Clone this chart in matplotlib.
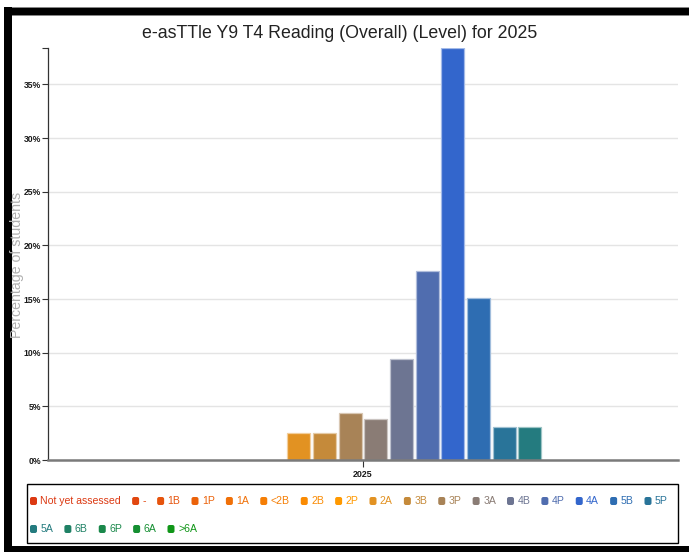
import matplotlib
matplotlib.use("Agg")
import matplotlib.pyplot as plt
import numpy as np
from matplotlib.patches import FancyBboxPatch, Rectangle
from matplotlib.transforms import IdentityTransform
from matplotlib.colors import to_rgb

W, H = 689, 552
plt.rcParams["font.family"] = ["Liberation Sans", "DejaVu Sans"]

TITLE = "e-asTTle Y9 T4 Reading (Overall) (Level) for 2025"
years = ["2025"]
levels = ["Not yet assessed", "-", "1B", "1P", "1A", "<2B", "2B", "2P", "2A",
          "3B", "3P", "3A", "4B", "4P", "4A", "5B", "5P", "5A", "6B", "6P", "6A", ">6A"]
percent = [0, 0, 0, 0, 0, 0, 0, 0, 2.5, 2.5, 4.4, 3.8, 9.4, 17.6, 38.4, 15.1,
           3.1, 3.1, 0, 0, 0, 0]
colors = ["#DC3912", "#E1470F", "#E6540D", "#EB620A", "#F07008", "#F57E05",
          "#FA8B03", "#FF9900", "#E29222", "#C58A3A", "#A88357", "#8A7C75",
          "#6D7592", "#506DAF", "#3366CC", "#2E6DB2", "#297499", "#247B7F",
          "#1F8165", "#1A884B", "#158F32", "#109618"]
yticks = [0, 5, 10, 15, 20, 25, 30, 35]


def px(x, y):
    """pixel (from top-left) -> figure fraction"""
    return x / W, 1 - y / H


def lighter(c, k=0.5):
    r, g, b = to_rgb(c)
    return (r + (1 - r) * k, g + (1 - g) * k, b + (1 - b) * k)


fig = plt.figure(figsize=(W / 100, H / 100), dpi=100)
ax = fig.add_axes([48 / W, 1 - 460 / H, (678 - 48) / W, (460 - 48) / H])

# grouped bars, one group per year
n = len(levels)
slot = 25.67 / 630
bw = 23 / 630
offsets = (np.arange(n) - (n - 1) / 2) * slot
x = np.arange(len(years))
for i, (lvl, val, c) in enumerate(zip(levels, percent, colors)):
    ax.bar(x + offsets[i], [val], width=bw, color=c, edgecolor=lighter(c, 0.55),
           linewidth=0.9 if val else 0, zorder=3)

ax.set_xlim(-0.5, 0.5)
ax.set_ylim(0, max(percent))
ax.set_yticks(yticks)
ax.set_yticklabels([f"{v}%" for v in yticks], fontsize=6.2, color="#1a1a1a",
                   fontweight="bold")
ax.set_yticks([max(percent)], minor=True)
ax.set_xticks(x)
ax.set_xticklabels(years, fontsize=6.4, color="#1a1a1a", fontweight="bold")
ax.tick_params(axis="y", which="both", length=4, width=0.8, color="#333333", pad=1)
ax.tick_params(axis="x", length=5, width=0.8, color="#333333", pad=2)
ax.grid(axis="y", color="#e4e4e4", linewidth=1, zorder=0)
ax.set_axisbelow(True)
for s in ("top", "right"):
    ax.spines[s].set_visible(False)
ax.spines["left"].set_color("#333333")
ax.spines["left"].set_linewidth(0.9)
ax.spines["bottom"].set_color("#7a7a7a")
ax.spines["bottom"].set_linewidth(1.8)
ax.spines["bottom"].set_zorder(4)

fig.text(*px(340, 33), TITLE, ha="center", va="center", fontsize=12.8,
         color="#222222")
fig.text(*px(17, 265), "Percentage of students", rotation=90, ha="center",
         va="center", fontsize=10.2, color="#b0b0b0")

# page frame
fig.add_artist(Rectangle(px(4, 15), (W - 4) / W, 8 / H, transform=fig.transFigure,
                         facecolor="black", edgecolor="#888888", linewidth=0.6))
fig.add_artist(Rectangle(px(4, H), 8 / W, (H - 7) / H, transform=fig.transFigure,
                         facecolor="black", edgecolor="none"))
fig.add_artist(Rectangle(px(4, H), (W - 4) / W, 6 / H, transform=fig.transFigure,
                         facecolor="black", edgecolor="none"))

# legend box
fig.add_artist(Rectangle(px(27, 543), 651 / W, 59 / H, transform=fig.transFigure,
                         fill=False, edgecolor="black", linewidth=1))

renderer = fig.canvas.get_renderer()
row_y = [501, 529]
row = 0
cx = 30
for lvl, c in zip(levels, colors):
    t = fig.text(0, 0, lvl, fontsize=7.6, color=c, va="center")
    tw = t.get_window_extent(renderer).width
    if cx + 10.5 + tw > 676:
        row += 1
        cx = 30
    ypix = H - row_y[row]
    fig.add_artist(FancyBboxPatch((cx, ypix - 4), 7, 8,
                                  boxstyle="round,pad=0,rounding_size=2",
                                  transform=IdentityTransform(),
                                  facecolor=c, edgecolor="none"))
    t.set_position(px(cx + 10.5, row_y[row]))
    cx = cx + 10.5 + tw + 11

fig.savefig("out.png", dpi=100)
